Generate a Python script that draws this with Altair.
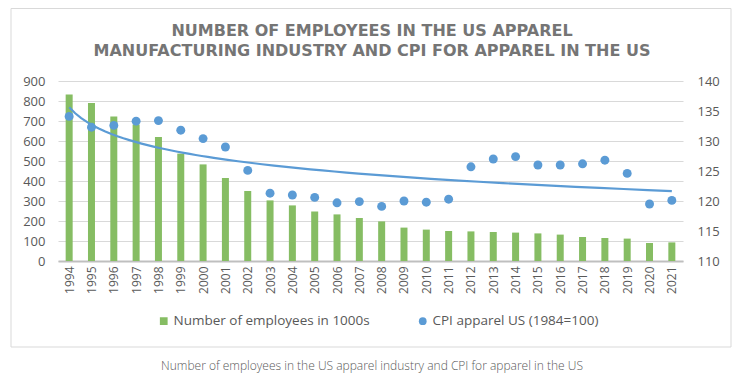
import altair as alt
import pandas as pd

years = list(range(1994, 2022))
employees = [833, 790, 722, 682, 620, 537, 483, 415, 350, 303, 278, 248, 233, 215,
             198, 167, 157, 150, 148, 145, 142, 138, 132, 120, 115, 112, 90, 93]
cpi = [134.1, 132.3, 132.6, 133.3, 133.4, 131.8, 130.4, 129.0, 125.1, 121.3, 121.0,
       120.6, 119.7, 119.9, 119.1, 120.0, 119.8, 120.3, 125.7, 127.0, 127.4, 126.0,
       126.0, 126.2, 126.8, 124.6, 119.5, 120.1]
series_names = ["Number of employees in 1000s", "CPI apparel US (1984=100)"]
title_lines = ["NUMBER OF EMPLOYEES IN THE US APPAREL",
               "MANUFACTURING INDUSTRY AND CPI FOR APPAREL IN THE US"]
caption = "Number of employees in the US apparel industry and CPI for apparel in the US"

df = pd.DataFrame({"year": years, "idx": list(range(1, len(years) + 1)),
                   "employees": employees, "cpi": cpi})

GRAY = "#595959"
FONT = "Open Sans"
GREEN = "#86BD63"
BLUE = "#5B9BD5"

x_axis = alt.Axis(values=years, format="d", labelAngle=-90, title=None, grid=False,
                  ticks=False, domainColor="#BFBFBF", domainWidth=2, labelColor=GRAY,
                  labelFontSize=12, labelPadding=5, labelFont=FONT)
x_scale = alt.Scale(domain=[1993.5, 2021.5], nice=False, zero=False, padding=0)

right_axis = alt.Axis(values=list(range(110, 145, 5)), title=None, grid=False, domain=False,
                      ticks=False, labelColor=GRAY, labelFontSize=13, labelPadding=14,
                      labelFont=FONT, orient="right")
cpi_scale = alt.Scale(domain=[110, 140], nice=False, zero=False)

legend = alt.Legend(orient="none", legendX=99, legendY=233, direction="horizontal",
                    title=None, labelFontSize=13.5, labelColor=GRAY, labelFont=FONT,
                    symbolSize=60, columnPadding=46, labelOffset=3, symbolStrokeWidth=0,
                    labelLimit=400)
color_scale = alt.Scale(domain=series_names, range=[GREEN, BLUE])
shape_scale = alt.Scale(domain=series_names, range=["square", "circle"])

bars = alt.Chart(df).transform_calculate(
    series="'" + series_names[0] + "'"
).mark_bar(size=7).encode(
    x=alt.X("year:Q", scale=x_scale, axis=x_axis),
    y=alt.Y("employees:Q", scale=alt.Scale(domain=[0, 900], nice=False),
            axis=alt.Axis(values=list(range(0, 1000, 100)), title=None, grid=True,
                          gridColor="#D9D9D9", domain=False, ticks=False, labelColor=GRAY,
                          labelFontSize=13, labelPadding=13, labelFont=FONT)),
    color=alt.Color("series:N", scale=color_scale, legend=legend),
    shape=alt.Shape("series:N", scale=shape_scale, legend=legend),
)

points = alt.Chart(df).transform_calculate(
    series="'" + series_names[1] + "'"
).mark_point(filled=True, size=80, opacity=1).encode(
    x=alt.X("year:Q", scale=x_scale, axis=x_axis),
    y=alt.Y("cpi:Q", scale=cpi_scale, axis=right_axis),
    color=alt.Color("series:N", scale=color_scale, legend=legend),
    shape=alt.Shape("series:N", scale=shape_scale, legend=legend),
)

trend = alt.Chart(df).transform_regression(
    "idx", "cpi", method="log"
).transform_calculate(
    year="datum.idx + 1993"
).mark_line(color=BLUE, strokeWidth=2.2).encode(
    x=alt.X("year:Q", scale=x_scale, axis=x_axis),
    y=alt.Y("cpi:Q", scale=cpi_scale, axis=right_axis),
)

one = pd.DataFrame({"a": [0]})
border = alt.Chart(one).mark_rect(fill=None, stroke="#D9D9D9", strokeWidth=1).encode(
    x=alt.value(-47), x2=alt.value(673), y=alt.value(-72.5), y2=alt.value(266))
title = alt.Chart(one).mark_text(font="DejaVu Sans", fontSize=16, fontWeight="bold",
                                 color="#757575", align="center", baseline="middle",
                                 lineHeight=20).encode(
    x=alt.value(314), y=alt.value(-50), text=alt.value(title_lines))
cap = alt.Chart(one).mark_text(font=FONT, fontSize=12, fontWeight=300, color=GRAY,
                               align="center", baseline="middle").encode(
    x=alt.value(314), y=alt.value(285), text=alt.value(caption))

chart = alt.layer(border, title, cap, bars, alt.layer(points, trend)).resolve_scale(
    y="independent"
).properties(
    width=625, height=180,
    autosize=alt.AutoSizeParams(type="none"),
    padding={"left": 50, "top": 73, "right": 51, "bottom": 113},
    background="white",
).configure_view(stroke=None)

chart.save("out.html", embed_options={"renderer": "svg", "actions": False})
